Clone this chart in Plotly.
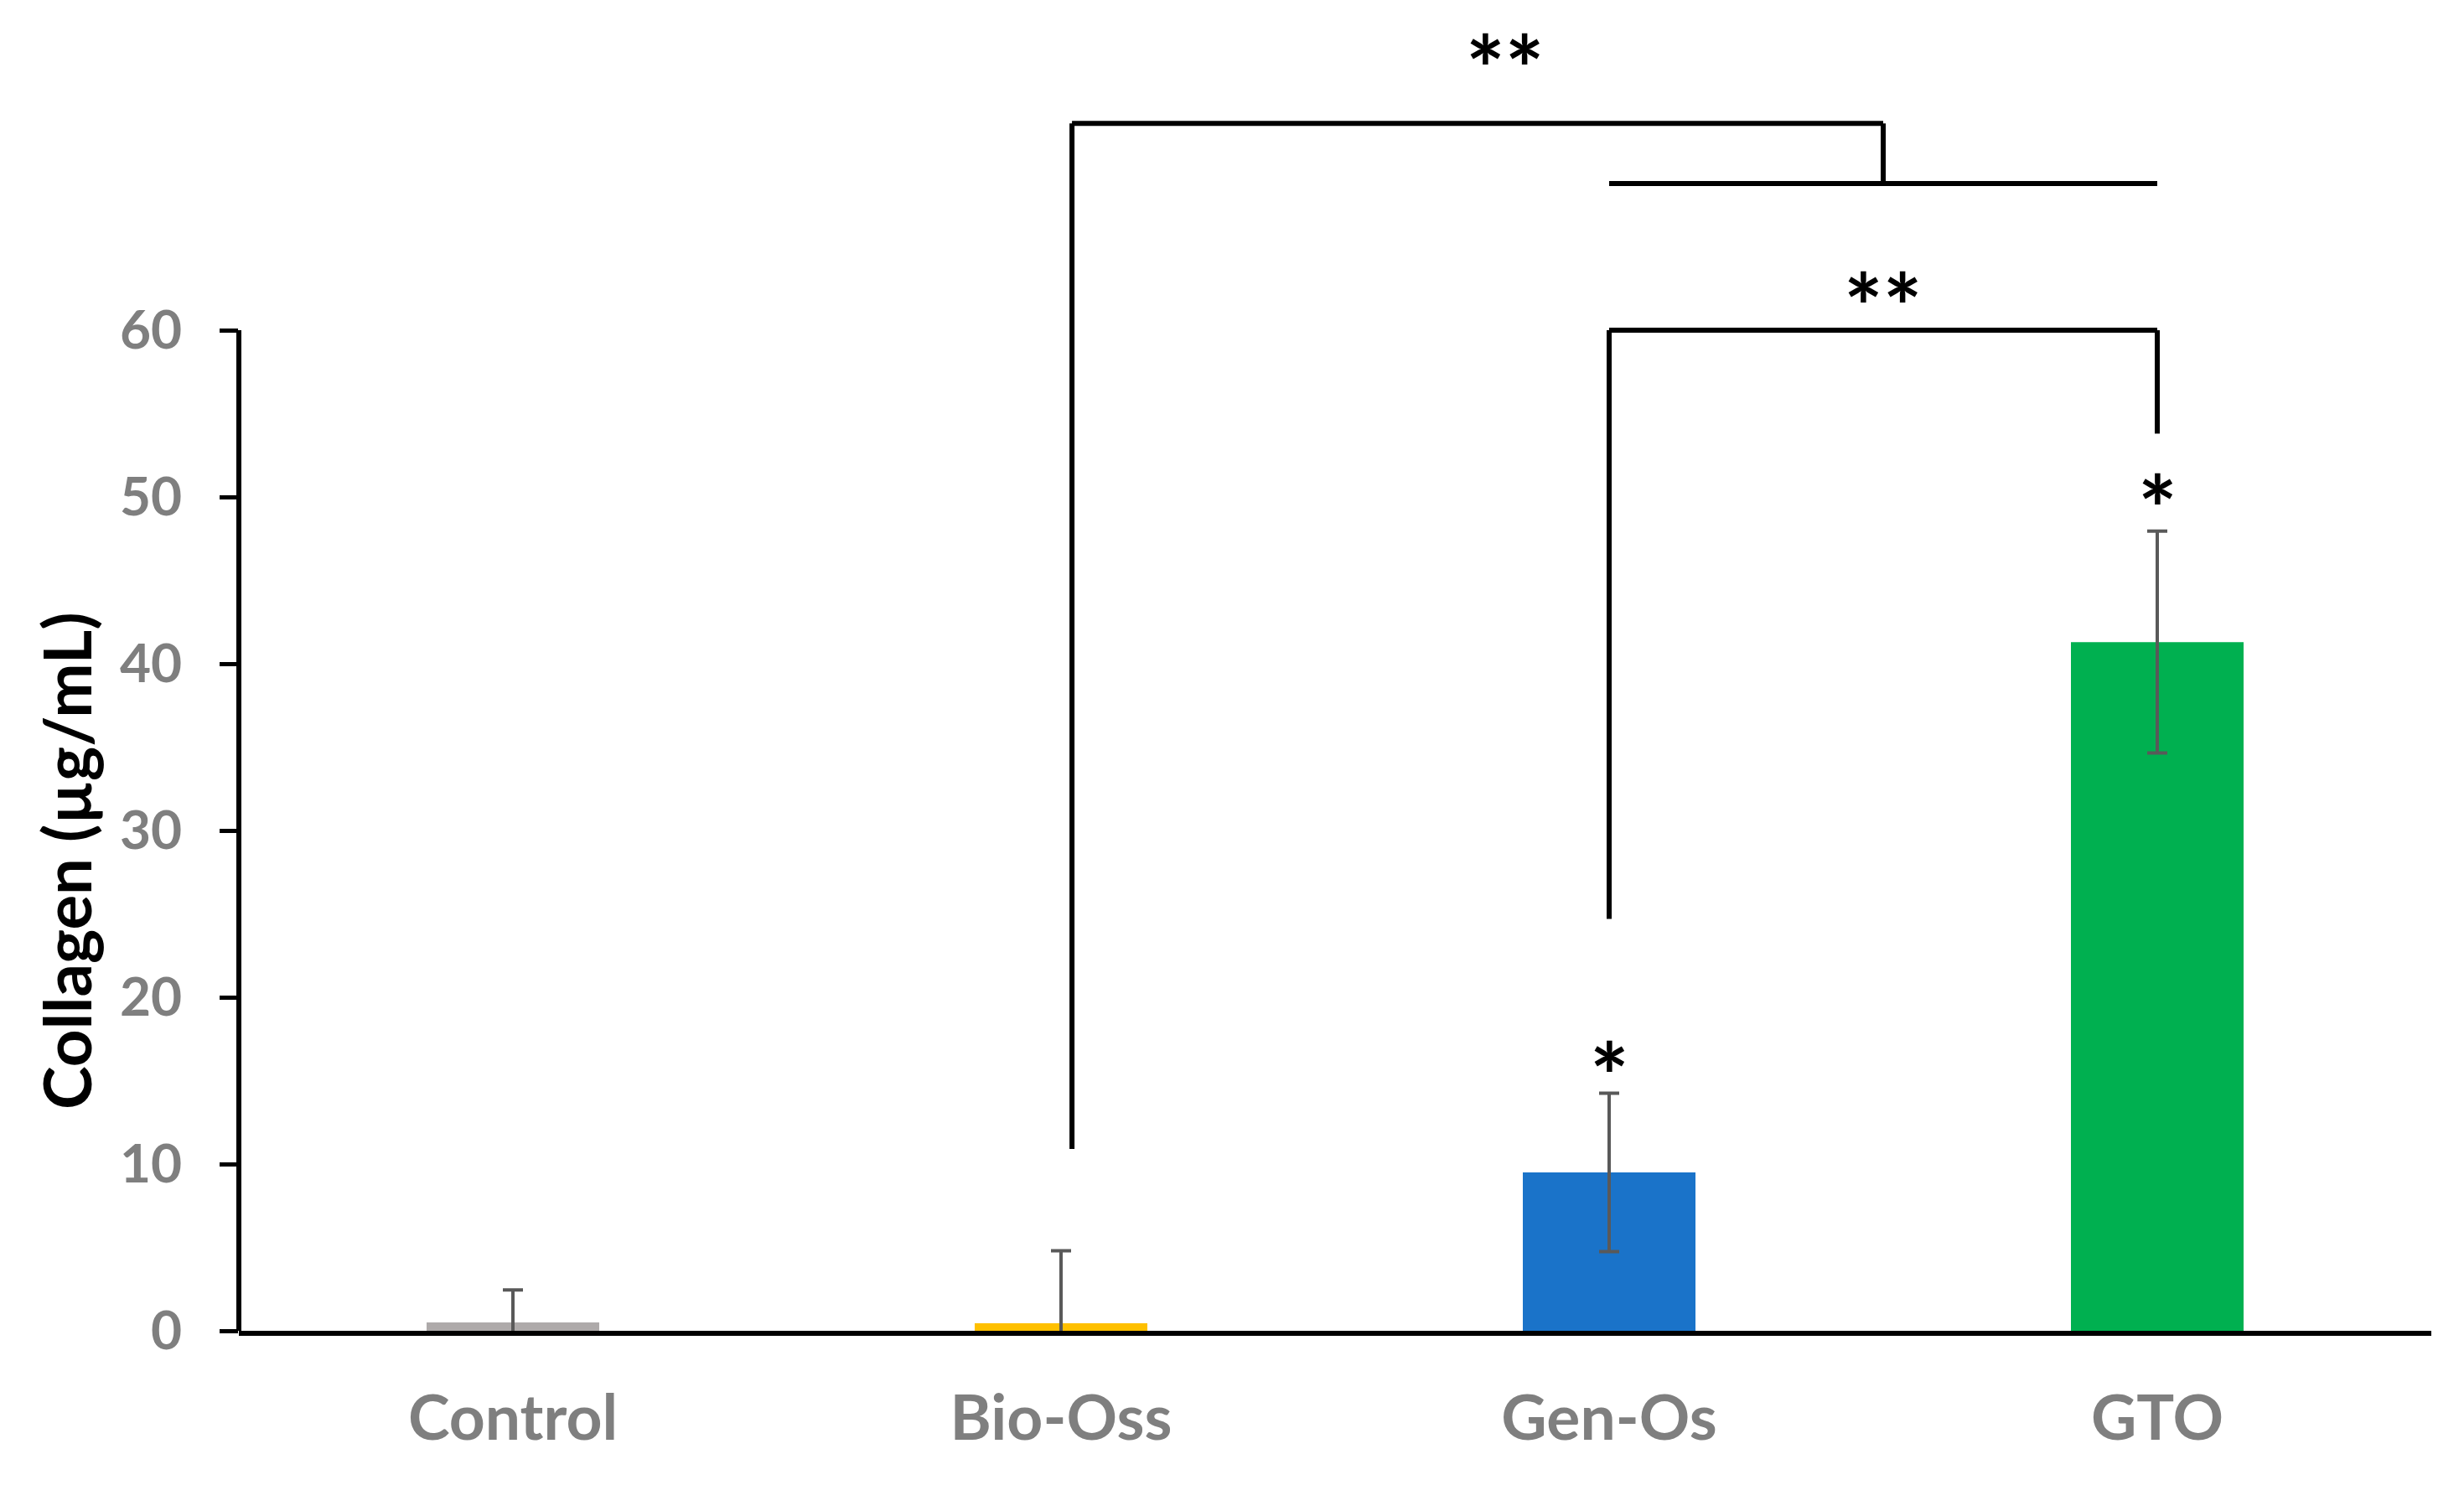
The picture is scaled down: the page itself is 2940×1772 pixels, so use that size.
import plotly.graph_objects as go

# ---------------- data ----------------
categories = ["Control", "Bio-Oss", "Gen-Os", "GTO"]
means = [0.5, 0.45, 9.5, 41.3]
sd = [1.95, 4.35, 4.75, 6.65]
bar_colors = ["#AEAAAA", "#FFC000", "#1A73C9", "#00B050"]
ytick_vals = [0, 10, 20, 30, 40, 50, 60]
y_title = "Collagen (µg/mL)"

# single-star markers (category index, y value)
star_x = [2, 3]
star_y = [16.7, 50.7]

# bracket segments (x0, y0, x1, y1) in data units
bracket_segments = [
    (1.02, 10.9, 1.02, 72.4),
    (1.02, 72.4, 2.5, 72.4),
    (2.5, 72.4, 2.5, 68.8),
    (2.0, 68.8, 3.0, 68.8),
    (2.0, 60.0, 3.0, 60.0),
    (2.0, 60.0, 2.0, 24.7),
    (3.0, 60.0, 3.0, 53.8),
]
# double-star labels (x, y)
dstar_x = [1.81, 2.5]
dstar_y = [77.1, 62.8]

FONT = "Lato"
GREY = "#7F7F7F"

fig = go.Figure()
fig.add_trace(go.Bar(
    x=categories, y=means,
    marker=dict(color=bar_colors, line=dict(width=0)),
    error_y=dict(type="data", array=sd, visible=True,
                 color="#595959", thickness=4, width=12),
    width=0.315,
    showlegend=False,
))

shapes = []
for (x0, y0, x1, y1) in bracket_segments:
    shapes.append(dict(type="line", xref="x", yref="y", x0=x0, y0=y0, x1=x1, y1=y1,
                       line=dict(color="black", width=6), layer="above"))
# y-axis line only up to 60
shapes.append(dict(type="line", xref="paper", yref="y", x0=0, x1=0,
                   y0=ytick_vals[0], y1=ytick_vals[-1],
                   line=dict(color="black", width=6), layer="above"))

star_font = dict(family=FONT, size=110, color="black", weight="bold")
annotations = []
for x, y in zip(star_x, star_y):
    annotations.append(dict(x=x, y=y, xref="x", yref="y", text="*", showarrow=False,
                            yanchor="middle", yshift=-26, font=star_font))
for x, y in zip(dstar_x, dstar_y):
    annotations.append(dict(x=x, y=y, xref="x", yref="y", text="**", showarrow=False,
                            yanchor="middle", yshift=-26, font=star_font))
# y-axis title
annotations.append(dict(x=-0.0787, y=28.2, xref="paper", yref="y", text=y_title,
                        textangle=-90, showarrow=False, xanchor="center", yanchor="middle",
                        font=dict(family=FONT, size=78, color="black", weight="bold")))

fig.update_layout(
    width=2940, height=1772,
    paper_bgcolor="white", plot_bgcolor="white",
    margin=dict(l=277, r=47, t=0, b=192),
    shapes=shapes, annotations=annotations,
    xaxis=dict(type="category", range=[-0.5, 3.5], showline=True, linewidth=6,
               linecolor="black", ticks="", showgrid=False, zeroline=False,
               tickfont=dict(family=FONT, size=75, color=GREY, weight="bold"),
               ticklabelstandoff=34),
    yaxis=dict(range=[0, 79.4], showline=False, showgrid=False, zeroline=False,
               tickvals=ytick_vals, ticks="outside", ticklen=22, tickwidth=5,
               tickcolor="black", ticklabelstandoff=32,
               tickfont=dict(family=FONT, size=64, color=GREY, weight="bold")),
)

fig.write_html("out.html", config=dict(displayModeBar=False))
